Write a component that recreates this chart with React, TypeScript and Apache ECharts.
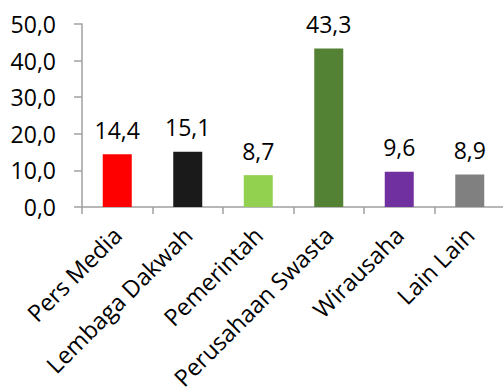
import React, { useEffect, useRef } from "react";
import * as echarts from "echarts";

const categories = ["Pers Media", "Lembaga Dakwah", "Pemerintah", "Perusahaan Swasta", "Wirausaha", "Lain Lain"];
const values = [14.4, 15.1, 8.7, 43.3, 9.6, 8.9];
const barColors = ["#ff0000", "#1a1a1a", "#92d050", "#548235", "#7030a0", "#808080"];

const fmt = (v: number) => v.toFixed(1).replace(".", ",");
const FONT = "'Open Sans', sans-serif";

export default function App() {
  const ref = useRef<HTMLDivElement>(null);
  useEffect(() => {
    if (!ref.current) return;
    const chart = echarts.init(ref.current, undefined, { renderer: "svg" });
    chart.setOption({
      animation: false,
      grid: { left: 82, top: 24, width: 423, bottom: 180, containLabel: false, outerBoundsMode: "none" },
      xAxis: {
        type: "category",
        data: categories,
        axisLine: { lineStyle: { color: "#a0a0a0", width: 1.5 } },
        axisTick: { show: true, length: 7, lineStyle: { color: "#a0a0a0", width: 1.5 } },
        axisLabel: {
          rotate: 45,
          interval: 0,
          margin: 24,
          color: "#000",
          fontFamily: FONT,
          fontSize: 23.5,
        },
      },
      yAxis: {
        type: "value",
        min: 0,
        max: 50,
        interval: 10,
        splitLine: { show: false },
        axisLine: { show: true, lineStyle: { color: "#a0a0a0", width: 1.5 } },
        axisTick: { show: true, length: 8, lineStyle: { color: "#a0a0a0", width: 1.5 } },
        axisLabel: {
          margin: 26,
          color: "#000",
          fontFamily: FONT,
          fontSize: 23,
          formatter: (v: number) => fmt(v),
        },
      },
      series: [
        {
          type: "bar",
          barWidth: 29,
          data: values.map((v, i) => ({ value: v, itemStyle: { color: barColors[i] } })),
          label: {
            show: true,
            position: "top",
            distance: 13,
            color: "#000",
            fontFamily: FONT,
            fontSize: 23,
            formatter: (p: any) => fmt(p.value),
          },
        },
      ],
    });
    return () => chart.dispose();
  }, []);
  return <div ref={ref} style={{ width: 503, height: 387, position: "absolute", left: 0, top: 0 }} />;
}
